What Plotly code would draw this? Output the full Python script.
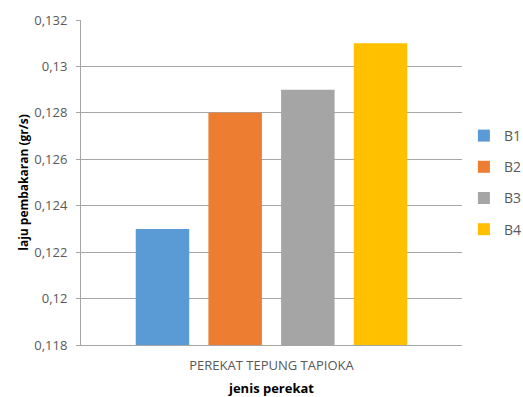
import plotly.graph_objects as go

# Burning rate per binder sample
category = ["PEREKAT TEPUNG TAPIOKA"]
series_names = ["B1", "B2", "B3", "B4"]
series_values = [0.123, 0.128, 0.129, 0.131]
series_colors = ["#5B9BD5", "#ED7D31", "#A5A5A5", "#FFC000"]

tick_vals = [0.118, 0.120, 0.122, 0.124, 0.126, 0.128, 0.130, 0.132]
tick_text = ["0,118", "0,12", "0,122", "0,124", "0,126", "0,128", "0,13", "0,132"]

fig = go.Figure()
for name, val, color in zip(series_names, series_values, series_colors):
    fig.add_trace(go.Bar(
        x=category, y=[val], name=name, marker_color=color,
        marker_line_width=0, legendgroup=name,
    ))

font_family = "Open Sans, Liberation Sans, sans-serif"

fig.update_layout(
    width=523, height=397,
    margin=dict(l=81, r=61, t=20, b=52, autoexpand=False),
    paper_bgcolor="white", plot_bgcolor="white",
    barmode="group", bargap=0.237, bargroupgap=0.264,
    font=dict(family=font_family, size=12, color="#595959"),
    showlegend=True,
    legend=dict(
        x=1.005, xanchor="left", y=0.5, yanchor="middle",
        font=dict(size=14, color="#595959"),
        tracegroupgap=10, bgcolor="rgba(0,0,0,0)",
    ),
    xaxis=dict(
        showgrid=False, showline=True, linecolor="#A6A6A6", linewidth=1,
        ticks="", tickfont=dict(size=13, color="#595959"),
        ticklabelstandoff=8,
        title=dict(text="<b>jenis perekat</b>", font=dict(size=13, color="#000000"), standoff=14),
    ),
    yaxis=dict(
        range=[0.118, 0.132], tickvals=tick_vals, ticktext=tick_text,
        showgrid=True, gridcolor="#A6A6A6", gridwidth=1,
        showline=True, linecolor="#A6A6A6", linewidth=1,
        ticks="outside", ticklen=4, tickcolor="#A6A6A6",
        tickfont=dict(size=13, color="#595959"),
        ticklabelstandoff=6,
        zeroline=False,
        title=dict(text="<b>laju pembakaran (gr/s)</b>", font=dict(size=12, color="#000000"), standoff=3),
    ),
)

fig.write_html("out.html")
